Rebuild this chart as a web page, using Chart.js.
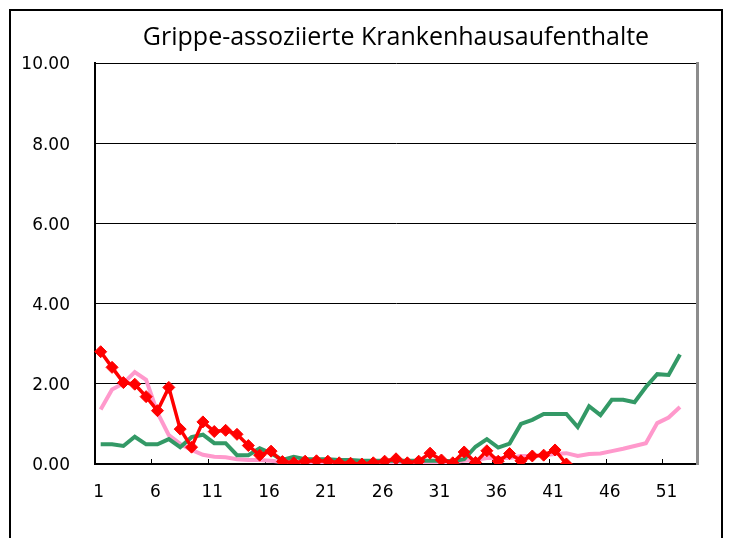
<!DOCTYPE html>
<html><head><meta charset="utf-8">
<script src="https://cdn.jsdelivr.net/npm/chart.js@4.4.1/dist/chart.umd.min.js"></script>
<style>
html,body{margin:0;padding:0;background:#fff;}
#wrap{position:relative;width:729px;height:538px;overflow:hidden;background:#fff;}
#frame{position:absolute;left:9px;top:9px;width:714px;height:600px;border:2px solid #000;box-sizing:border-box;}
#c{position:absolute;left:0;top:0;}
</style></head><body>
<div id="wrap"><div id="frame"></div><canvas id="c" width="729" height="538"></canvas></div>
<script>
const titleText = 'Grippe-assoziierte Krankenhausaufenthalte';
const weeks = ['1','2','3','4','5','6','7','8','9','10','11','12','13','14','15','16','17','18','19','20','21','22','23','24','25','26','27','28','29','30','31','32','33','34','35','36','37','38','39','40','41','42','43','44','45','46','47','48','49','50','51','52','53'];
const yTicks = [0, 2, 4, 6, 8, 10];
const seasonCurrent = [2.80, 2.41, 2.03, 1.99, 1.68, 1.33, 1.91, 0.87, 0.42, 1.05, 0.81, 0.84, 0.74, 0.46, 0.22, 0.32, 0.06, 0.03, 0.07, 0.08, 0.07, 0.03, 0.02, 0.00, 0.03, 0.07, 0.13, 0.03, 0.07, 0.27, 0.10, 0.03, 0.30, 0.04, 0.33, 0.07, 0.26, 0.08, 0.20, 0.22, 0.35, 0.00];
const seasonGreen = [0.49, 0.49, 0.45, 0.68, 0.49, 0.49, 0.62, 0.42, 0.67, 0.73, 0.52, 0.52, 0.22, 0.22, 0.39, 0.27, 0.10, 0.18, 0.12, 0.12, 0.12, 0.10, 0.10, 0.08, 0.08, 0.08, 0.08, 0.08, 0.08, 0.08, 0.08, 0.07, 0.12, 0.43, 0.62, 0.41, 0.51, 1.00, 1.10, 1.25, 1.25, 1.25, 0.92, 1.44, 1.22, 1.60, 1.60, 1.54, 1.92, 2.24, 2.22, 2.73];
const seasonPink = [1.36, 1.86, 2.01, 2.29, 2.10, 1.28, 0.72, 0.50, 0.35, 0.23, 0.18, 0.17, 0.12, 0.10, 0.10, 0.08, 0.05, 0.05, 0.05, 0.05, 0.05, 0.05, 0.05, 0.05, 0.05, 0.05, 0.05, 0.05, 0.05, 0.05, 0.05, 0.05, 0.08, 0.10, 0.15, 0.15, 0.15, 0.20, 0.20, 0.22, 0.25, 0.27, 0.20, 0.25, 0.26, 0.32, 0.38, 0.45, 0.52, 1.02, 1.16, 1.42];

const tickFont = {family: 'DejaVu Sans', size: 17, weight: 'normal'};
new Chart(document.getElementById('c'), {
  type: 'line',
  data: {
    labels: weeks,
    datasets: [
      {label: 'aktuell', data: seasonCurrent, borderColor: '#FF0000', backgroundColor: '#FF0000', borderWidth: 3.5,
       pointStyle: 'rectRot', pointRadius: 6, pointBackgroundColor: '#FF0000', pointBorderColor: '#FF0000', pointBorderWidth: 1, tension: 0},
      {label: 'Saison B', data: seasonGreen, borderColor: '#339966', borderWidth: 4, pointRadius: 0, tension: 0},
      {label: 'Saison A', data: seasonPink, borderColor: '#FF99CC', borderWidth: 4, pointRadius: 0, tension: 0}
    ]
  },
  options: {
    responsive: false, animation: false, devicePixelRatio: 1,
    layout: {padding: {left: 0, right: 0, top: 0, bottom: 0}},
    plugins: {
      legend: {display: false}, tooltip: {enabled: false},
      title: {display: true, fullSize: false, text: titleText, color: '#000', font: {family: 'Open Sans', size: 25, weight: 'normal'}, padding: {top: 23, bottom: 10}}
    },
    scales: {
      x: {
        offset: true,
        grid: {offset: true, drawOnChartArea: false, drawTicks: true, tickLength: -5, lineWidth: 1,
               color: (c) => (c.index > 0 && c.index % 5 === 0 && c.index < 53) ? '#000' : 'rgba(0,0,0,0)'},
        border: {color: '#000', width: 2},
        ticks: {autoSkip: false, maxRotation: 0, minRotation: 0, padding: 23, labelOffset: -2, color: '#000', font: tickFont,
                callback: (v, i) => (i % 5 === 0 ? weeks[i] : '')},
        afterFit: (s) => { s.height = 74; }
      },
      y: {
        min: 0, max: 10,
        afterBuildTicks: (s) => { s.ticks = yTicks.map(v => ({value: v})); },
        ticks: {padding: 25, labelOffset: 2, color: '#000', font: tickFont, callback: (v) => Number(v).toFixed(2)},
        grid: {color: '#000', lineWidth: 1, drawTicks: false},
        border: {color: '#000', width: 2},
        afterFit: (s) => { s.width = 95; }
      },
      y2: {
        position: 'right', min: 0, max: 10,
        ticks: {display: false},
        grid: {drawOnChartArea: false, drawTicks: false},
        border: {color: '#8c8c8c', width: 3},
        afterFit: (s) => { s.width = 32; }
      }
    }
  }
});
</script>
</body></html>
